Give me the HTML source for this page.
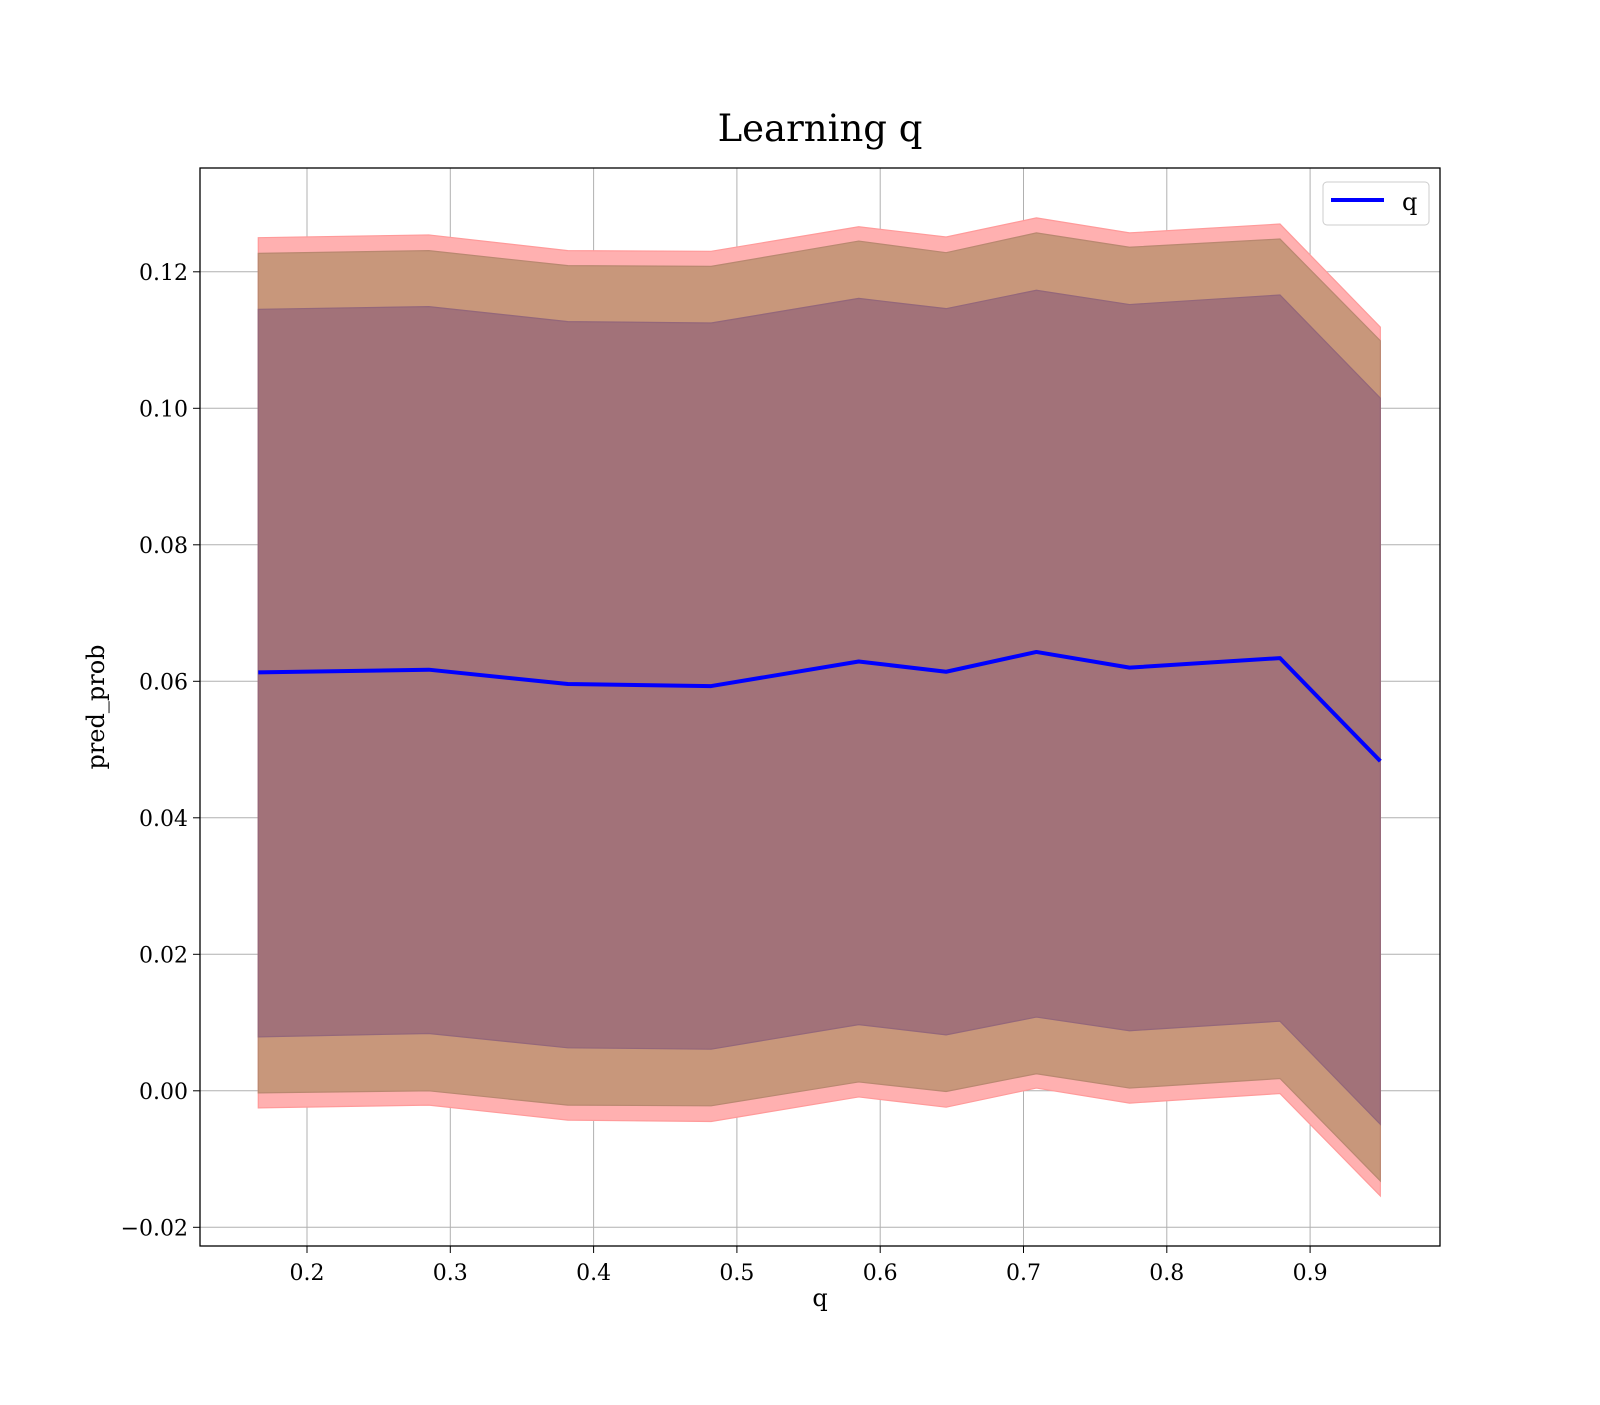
<!DOCTYPE html>
<html><head><meta charset="utf-8"><style>
body{margin:0;background:#fff}
svg text{font-family:"DejaVu Serif","Liberation Serif",serif;fill:#000}
</style></head><body>
<svg id="chart" width="1600" height="1400" xmlns="http://www.w3.org/2000/svg">
<rect width="1600" height="1400" fill="#fff"/>
<text x="820" y="141" font-size="37" text-anchor="middle">Learning q</text>
<g id="grid"></g>
<g id="bands"></g>
<g id="line"></g>
<rect x="200" y="168" width="1240" height="1078" fill="none" stroke="#000" stroke-width="1.3"/>
<g id="ticks"></g>
<text x="820" y="1306" font-size="24" text-anchor="middle">q</text>
<text transform="translate(104,707) rotate(-90)" font-size="24" text-anchor="middle">pred_prob</text>
<g>
<rect x="1323" y="182" width="106" height="43" rx="4" fill="#fff" fill-opacity="0.8" stroke="#ccc"/>
<line x1="1331" y1="200" x2="1384" y2="200" stroke="#0000ff" stroke-width="4"/>
<text x="1402" y="210" font-size="24">q</text>
</g>
</svg>
<script>
const xs=[0.166,0.285,0.382,0.482,0.585,0.646,0.709,0.774,0.879,0.949];
const mean=[0.0613,0.0617,0.0596,0.0593,0.0629,0.0614,0.0643,0.0620,0.0634,0.0483];
const in_hi=[0.1145,0.1149,0.1127,0.1125,0.1161,0.1146,0.1173,0.1152,0.1166,0.1015];
const in_lo=[0.0079,0.0084,0.0063,0.0061,0.0097,0.0082,0.0108,0.0088,0.0102,-0.0049];
const mid_hi=[0.1227,0.1231,0.1209,0.1208,0.1245,0.1228,0.1257,0.1236,0.1248,0.1099];
const mid_lo=[-0.0003,0.0,-0.0021,-0.0022,0.0013,-0.0001,0.0025,0.0004,0.0018,-0.0132];
const out_hi=[0.1250,0.1254,0.1231,0.1230,0.1266,0.1251,0.1279,0.1257,0.1270,0.1119];
const out_lo=[-0.0025,-0.0021,-0.0043,-0.0045,-0.0009,-0.0024,0.0004,-0.0018,-0.0004,-0.0154];
const xticks=[0.2,0.3,0.4,0.5,0.6,0.7,0.8,0.9];
const yticks=[-0.02,0,0.02,0.04,0.06,0.08,0.10,0.12];
const X=v=>307+(v-0.2)*1433;
const Y=v=>1090.8-v*6825;
const NS="http://www.w3.org/2000/svg";
function mk(tag,parent,attrs){const e=document.createElementNS(NS,tag);for(const k in attrs)e.setAttribute(k,attrs[k]);parent.appendChild(e);return e;}
const grid=document.getElementById('grid'),ticks=document.getElementById('ticks');
xticks.forEach(t=>{
 const g=mk('line',grid,{x1:X(t),x2:X(t),y1:168,y2:1246,stroke:'#b0b0b0','stroke-width':1});
 
 
 mk('line',ticks,{x1:X(t),x2:X(t),y1:1246,y2:1253,stroke:'#000'});
 const tx=mk('text',ticks,{x:X(t),y:1280,'font-size':22,'text-anchor':'middle'});
 tx.textContent=t.toFixed(1);
 
 
});
yticks.forEach(t=>{
 const g=mk('line',grid,{x1:200,x2:1440,y1:Y(t),y2:Y(t),stroke:'#b0b0b0','stroke-width':1});
 
 
 mk('line',ticks,{x1:193,x2:200,y1:Y(t),y2:Y(t),stroke:'#000'});
 const tx=mk('text',ticks,{x:188,y:Y(t)+8,'font-size':22,'text-anchor':'end'});
 tx.textContent=(t<0?'\u2212':'')+Math.abs(t).toFixed(2);
 
 
});
const bands=document.getElementById('bands');
function band(hi,lo,fill,stroke,name){
 let d='M'+xs.map((x,i)=>X(x)+','+Y(hi[i])).join('L');
 d+='L'+xs.map((x,i)=>X(x)+','+Y(lo[i])).reverse().join('L')+'Z';
 const p=mk('path',bands,{d:d,fill:fill,stroke:stroke,'stroke-width':1.2});
 
 
}
band(out_hi,out_lo,'#ffb0b0','#ff9a9a','band-outer');
band(mid_hi,mid_lo,'#c8977b','#b98870','band-middle');
band(in_hi,in_lo,'#a27279','#94677a','band-inner');
const pl=mk('polyline',document.getElementById('line'),{points:xs.map((x,i)=>X(x)+','+Y(mean[i])).join(' '),fill:'none',stroke:'#0000ff','stroke-width':4,'stroke-linejoin':'round'});


</script>
</body></html>
